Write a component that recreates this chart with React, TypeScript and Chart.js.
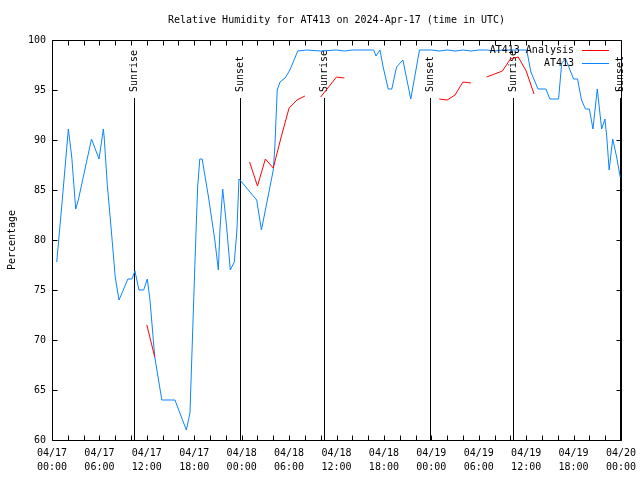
import React, { useEffect, useRef } from 'react';
import { Chart, registerables } from 'chart.js';

Chart.register(...registerables);

const FONT = '"DejaVu Sans Mono", "Liberation Mono", monospace';

const chartTitle = 'Relative Humidity for AT413 on 2024-Apr-17 (time in UTC)';
const yAxisTitle = 'Percentage';

const xTickDates = ['04/17', '04/17', '04/17', '04/17', '04/18', '04/18', '04/18', '04/18', '04/19', '04/19', '04/19', '04/19', '04/20'];
const xTickTimes = ['00:00', '06:00', '12:00', '18:00', '00:00', '06:00', '12:00', '18:00', '00:00', '06:00', '12:00', '18:00', '00:00'];

// hours since 2024-04-17 00:00 UTC
const sunHours = [10.4, 23.8, 34.4, 47.85, 58.35, 71.9];
const sunLabels = ['Sunrise', 'Sunset', 'Sunrise', 'Sunset', 'Sunrise', 'Sunset'];

const seriesNames = ['AT413 Analysis', 'AT413'];
const seriesColors = ['#ff0000', '#0a84ff'];

const analysisHours = [12, 13, 14, 25, 26, 27, 28, 29, 30, 31, 32, 33, 34, 35, 36, 37, 38, 49, 50, 51, 52, 53, 54, 55, 56, 57, 58, 59, 60, 61];
const analysisRH = [71.5, 68.3, null, 87.8, 85.4, 88.1, 87.2, 90.3, 93.2, 94.0, 94.4, null, 94.3, 95.3, 96.3, 96.2, null, 94.1, 94.0, 94.5, 95.8, 95.7, null, 96.3, 96.6, 96.9, 98.1, 98.3, 96.9, 94.6];

const obsHours = [
  0.6, 1.3, 2.07, 2.5, 3.0, 3.33, 5.0, 5.95, 6.5, 6.6, 7.0, 7.5, 8.0, 8.48, 9.6, 10.1, 10.5, 11.0, 11.6, 12.06,
  12.4, 13.0, 13.9, 15.56, 17.0, 17.46, 18.1, 18.43, 18.7, 19.0, 19.8, 20.6, 21.05, 21.25, 21.6, 22.1, 22.56, 23.07, 23.4, 23.66,
  24.0, 25.9, 26.5, 28.0, 28.2, 28.5, 28.85, 29.5, 30.1, 31.1, 32.2, 34.0, 36.0, 37.0, 38.0, 40.7, 41.0, 41.5, 41.9, 42.55,
  43.0, 43.6, 44.4, 45.4, 46.5, 48, 49, 50, 51, 52, 53, 54, 55, 56, 57, 58, 59, 60.07, 60.6, 61.5,
  62.5, 63.0, 64.1, 64.5, 65.0, 66.0, 66.5, 67.0, 67.5, 68.0, 68.45, 69.0, 69.55, 69.97, 70.2, 70.5, 70.95, 71.45, 71.9,
];
const obsRH = [
  77.8, 84.0, 91.1, 88.3, 83.1, 84.0, 90.1, 88.1, 91.1, 90.3, 85.5, 81.0, 76.3, 74.0, 76.1, 76.1, 76.9, 75.0, 75.0, 76.1,
  74.0, 68.3, 64.0, 64.0, 61.0, 62.7, 78.0, 85.3, 88.1, 88.1, 84.3, 80.0, 77.0, 81.0, 85.1, 81.3, 77.0, 77.8, 81.0, 86.1,
  85.8, 84.0, 81.0, 87.0, 89.3, 95.0, 95.8, 96.2, 97.0, 98.9, 99.0, 98.9, 99.0, 98.9, 99.0, 99.0, 98.4, 99.0, 97.3, 95.1,
  95.1, 97.3, 98.0, 94.1, 99.0, 99.0, 98.9, 99.0, 98.9, 99.0, 98.9, 99.0, 99.0, 98.9, 99.0, 99.0, 99.0, 99.0, 96.8, 95.1,
  95.1, 94.1, 94.1, 97.7, 98.1, 96.1, 96.1, 94.0, 93.1, 93.1, 91.1, 95.1, 91.1, 92.1, 90.3, 87.0, 90.1, 88.3, 86.3,
];

const framePlugin = {
  id: 'gnuframe',
  beforeDatasetsDraw(chart: any) {
    const { ctx, chartArea: a, scales } = chart;
    const x = scales.x;
    ctx.save();
    ctx.strokeStyle = '#000';
    ctx.fillStyle = '#000';
    ctx.lineWidth = 1;
    ctx.font = `10px ${FONT}`;
    sunHours.forEach((h, i) => {
      const px = Math.round(x.getPixelForValue(h)) + 0.5;
      ctx.beginPath();
      ctx.moveTo(px, a.top + 58);
      ctx.lineTo(px, a.bottom);
      ctx.stroke();
      ctx.save();
      ctx.translate(px, a.top + 52);
      ctx.rotate(-Math.PI / 2);
      ctx.textAlign = 'left';
      ctx.textBaseline = 'middle';
      ctx.fillText(sunLabels[i], 0, 0);
      ctx.restore();
    });
    ctx.restore();
  },
  afterDraw(chart: any) {
    const { ctx, chartArea: a, scales } = chart;
    const x = scales.x;
    const y = scales.y;
    const L = Math.round(a.left) + 0.5;
    const R = Math.round(a.right) + 0.5;
    const T = Math.round(a.top) + 0.5;
    const B = Math.round(a.bottom) + 0.5;
    ctx.save();
    ctx.strokeStyle = '#000';
    ctx.lineWidth = 1;
    ctx.beginPath();
    ctx.rect(L, T, R - L, B - T);
    ctx.stroke();
    const tl = 5;
    ctx.beginPath();
    for (let h = 0; h <= 72; h += 2) {
      const px = Math.round(x.getPixelForValue(h)) + 0.5;
      ctx.moveTo(px, B);
      ctx.lineTo(px, B - tl);
      ctx.moveTo(px, T);
      ctx.lineTo(px, T + tl);
    }
    for (let v = 60; v <= 100; v += 5) {
      const py = Math.round(y.getPixelForValue(v)) + 0.5;
      ctx.moveTo(L, py);
      ctx.lineTo(L + tl, py);
      ctx.moveTo(R, py);
      ctx.lineTo(R - tl, py);
    }
    ctx.stroke();

    // legend
    ctx.font = `10px ${FONT}`;
    ctx.fillStyle = '#000';
    ctx.textAlign = 'right';
    ctx.textBaseline = 'middle';
    seriesNames.forEach((name, i) => {
      const ty = a.top + 10 + i * 13;
      ctx.fillText(name, a.right - 47, ty);
      ctx.strokeStyle = seriesColors[i];
      ctx.beginPath();
      ctx.moveTo(a.right - 39, Math.round(ty) + 0.5);
      ctx.lineTo(a.right - 12, Math.round(ty) + 0.5);
      ctx.stroke();
    });
    ctx.restore();
  },
};

export default function App() {
  const ref = useRef<HTMLCanvasElement | null>(null);

  useEffect(() => {
    document.body.style.margin = '0';
    const canvas = ref.current;
    if (!canvas) return;
    const chart = new Chart(canvas, {
      type: 'line',
      data: {
        datasets: [
          {
            label: seriesNames[0],
            data: analysisHours.map((h, i) => ({ x: h, y: analysisRH[i] })) as any,
            borderColor: seriesColors[0],
            borderWidth: 1,
            pointRadius: 0,
            spanGaps: false,
            fill: false,
          },
          {
            label: seriesNames[1],
            data: obsHours.map((h, i) => ({ x: h, y: obsRH[i] })) as any,
            borderColor: seriesColors[1],
            borderWidth: 1,
            pointRadius: 0,
            fill: false,
          },
        ],
      },
      options: {
        responsive: false,
        animation: false,
        devicePixelRatio: 1,
        layout: { padding: { left: 0, right: 19, top: 0, bottom: 0 } },
        plugins: {
          legend: { display: false },
          tooltip: { enabled: false },
          title: {
            display: true,
            text: chartTitle,
            color: '#000',
            fullSize: false,
            font: { family: FONT, size: 10, weight: 'normal', lineHeight: 1.2 },
            padding: { top: 14, bottom: 14 },
          },
        },
        scales: {
          x: {
            type: 'linear',
            min: 0,
            max: 72,
            grid: { display: false, drawTicks: false },
            border: { display: false },
            afterFit: (s: any) => {
              s.height = 40;
              s.paddingLeft = 0;
              s.paddingRight = 0;
            },
            ticks: {
              stepSize: 6,
              autoSkip: false,
              maxRotation: 0,
              padding: 6,
              color: '#000',
              font: { family: FONT, size: 10, lineHeight: 1.4 },
              callback: (v: any) => {
                const i = Math.round(Number(v) / 6);
                return [xTickDates[i], xTickTimes[i]];
              },
            },
          },
          y: {
            type: 'linear',
            min: 60,
            max: 100,
            grid: { display: false, drawTicks: false },
            border: { display: false },
            afterFit: (s: any) => {
              s.width = 52;
            },
            title: {
              display: true,
              text: yAxisTitle,
              color: '#000',
              font: { family: FONT, size: 10, lineHeight: 1.2 },
              padding: { top: 6, bottom: 0 },
            },
            ticks: {
              stepSize: 5,
              padding: 6,
              color: '#000',
              font: { family: FONT, size: 10 },
            },
          },
        },
      },
      plugins: [framePlugin],
    });
    return () => chart.destroy();
  }, []);

  return (
    <div style={{ position: 'fixed', left: 0, top: 0, width: 640, height: 480, background: '#fff' }}>
      <canvas ref={ref} width={640} height={480} />
    </div>
  );
}
